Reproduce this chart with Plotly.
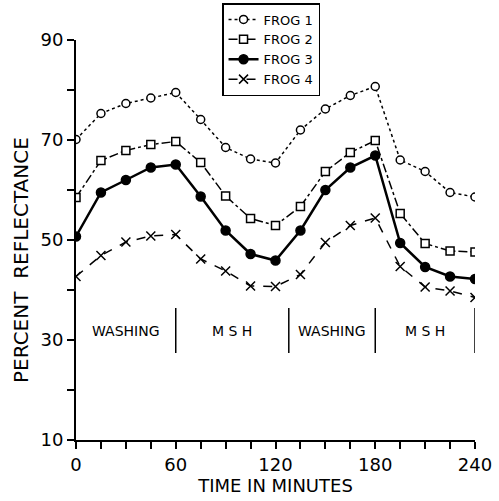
import plotly.graph_objects as go

time_min = [0, 15, 30, 45, 60, 75, 90, 105, 120, 135, 150, 165, 180, 195, 210, 225, 240]
frog1 = [70.1, 75.3, 77.3, 78.4, 79.5, 74.1, 68.5, 66.2, 65.4, 72.0, 76.2, 78.9, 80.7, 66.0, 63.7, 59.5, 58.6]
frog2 = [58.5, 65.9, 67.9, 69.1, 69.7, 65.5, 58.8, 54.3, 52.9, 56.7, 63.7, 67.5, 69.9, 55.3, 49.3, 47.8, 47.6]
frog3 = [50.7, 59.5, 62.0, 64.5, 65.1, 58.7, 51.9, 47.2, 45.9, 51.9, 60.0, 64.5, 66.9, 49.4, 44.6, 42.7, 42.2]
frog4 = [42.7, 46.9, 49.6, 50.8, 51.1, 46.2, 43.8, 40.8, 40.7, 43.1, 49.5, 52.9, 54.4, 44.7, 40.6, 39.8, 38.5]

series_names = ["FROG 1", "FROG 2", "FROG 3", "FROG 4"]
phase_labels = ["WASHING", "M S H", "WASHING", "M S H"]
phase_centers = [30, 94, 154, 210]
phase_bounds = [60, 128, 180, 240]

x_tickvals = [0, 60, 120, 180, 240]
y_tickvals = [10, 30, 50, 70, 90]

FONT = "DejaVu Sans, Liberation Sans, sans-serif"

fig = go.Figure()
styles = [
    dict(dash="dot", width=1.5, symbol="circle", fill="white", size=8),
    dict(dash="dashdot", width=1.5, symbol="square", fill="white", size=8),
    dict(dash="solid", width=2.5, symbol="circle", fill="black", size=9),
    dict(dash="dash", width=1.5, symbol="x-thin", fill="black", size=9),
]
for name, ys, st in zip(series_names, [frog1, frog2, frog3, frog4], styles):
    fig.add_trace(go.Scatter(
        x=time_min, y=ys, name=name, mode="lines+markers",
        line=dict(color="black", width=st["width"], dash=st["dash"]),
        marker=dict(symbol=st["symbol"], size=st["size"], color=st["fill"],
                    line=dict(color="black", width=1.5)),
    ))

for xb in phase_bounds:
    fig.add_shape(type="line", x0=xb, x1=xb, y0=27.4, y1=36.4, xref="x", yref="y",
                  line=dict(color="black", width=1.5))
for lab, xc in zip(phase_labels, phase_centers):
    fig.add_annotation(x=xc, y=31.9, text=lab, showarrow=False, xref="x", yref="y",
                       font=dict(family=FONT, size=14, color="black"))

# y-axis title placed as annotation (it sits slightly below centre in the original)
fig.add_annotation(x=-0.138, y=0.45, xref="paper", yref="paper", text="PERCENT  REFLECTANCE",
                   textangle=-90, showarrow=False, xanchor="center", yanchor="middle",
                   font=dict(family=FONT, size=20, color="black"))

fig.update_layout(
    width=499, height=501,
    margin=dict(l=76, r=24, t=40, b=61, autoexpand=False),
    paper_bgcolor="white", plot_bgcolor="white",
    font=dict(family=FONT, color="black"),
    showlegend=True,
    legend=dict(x=0.366, y=1.0925, xanchor="left", yanchor="top",
                bordercolor="black", borderwidth=1.5, bgcolor="white",
                font=dict(family=FONT, size=13), tracegroupgap=0,
                itemwidth=30),
)
fig.update_xaxes(
    range=[0, 240], showgrid=False, zeroline=False,
    showline=True, linecolor="black", linewidth=2,
    tickvals=x_tickvals, ticks="outside", ticklen=7, tickwidth=1.5, tickcolor="black",
    minor=dict(dtick=15, ticks="outside", ticklen=7, tickwidth=1.5, tickcolor="black"),
    tickfont=dict(family=FONT, size=18),
    title=dict(text="TIME IN MINUTES", font=dict(family=FONT, size=18), standoff=5),
)
fig.update_yaxes(
    range=[10, 90], showgrid=False, zeroline=False,
    showline=True, linecolor="black", linewidth=2,
    tickvals=y_tickvals, ticks="outside", ticklen=7, tickwidth=1.5, tickcolor="black",
    minor=dict(dtick=10, ticks="outside", ticklen=7, tickwidth=1.5, tickcolor="black"),
    tickfont=dict(family=FONT, size=18),
)

fig.write_html("out.html", config={"displayModeBar": False},
               post_script="document.body.style.margin='0';")
